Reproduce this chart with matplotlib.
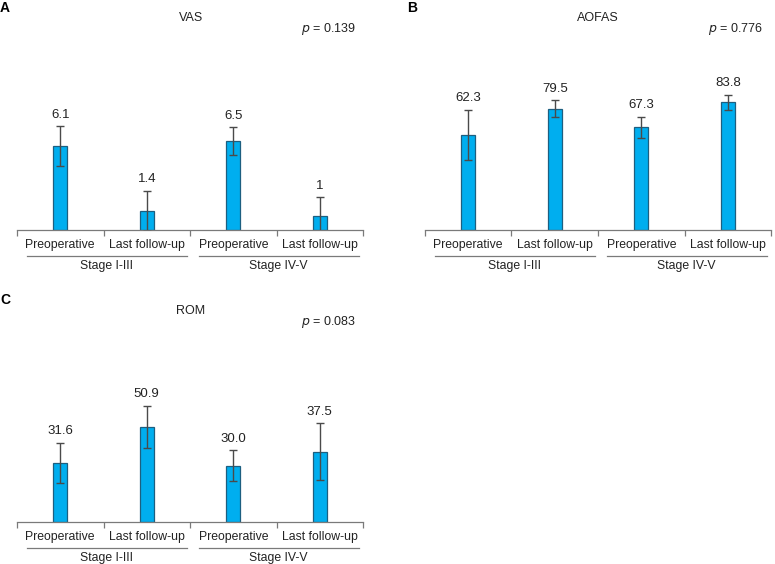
import matplotlib.pyplot as plt
from matplotlib import transforms

plt.rcParams['font.family'] = ['Liberation Sans', 'DejaVu Sans']

# data
categories = ['Preoperative', 'Last follow-up', 'Preoperative', 'Last follow-up']
groups = ['Stage I-III', 'Stage IV-V']

vas_mean = [6.1, 1.4, 6.5, 1.0]
vas_err = [1.46, 1.45, 1.0, 1.4]
vas_labels = ['6.1', '1.4', '6.5', '1']

aofas_mean = [62.3, 79.5, 67.3, 83.8]
aofas_err = [16.7, 5.6, 6.9, 4.9]
aofas_labels = ['62.3', '79.5', '67.3', '83.8']

rom_mean = [31.6, 50.9, 30.0, 37.5]
rom_err = [10.7, 11.2, 8.3, 15.2]
rom_labels = ['31.6', '50.9', '30.0', '37.5']

W, H = 775, 564
fig = plt.figure(figsize=(W / 100, H / 100), dpi=100)

bar_color = '#00AEEF'
edge_color = '#1d5f80'
err_color = '#4a4a4a'
axis_color = '#7a7a7a'


def panel(x0, x1, base_y, top_y, ymax, means, errs, labels,
          letter, letter_xy, title, title_xy, ptext, p_xy):
    ax = fig.add_axes([x0 / W, 1 - base_y / H, (x1 - x0) / W, (base_y - top_y) / H])
    xs = range(len(means))
    ax.bar(xs, means, width=0.16, color=bar_color, edgecolor=edge_color, linewidth=0.9, zorder=2)
    ax.errorbar(xs, means, yerr=errs, fmt='none', ecolor=err_color, elinewidth=1.0,
                capsize=3, capthick=1.0, zorder=3)
    for x, m, e, lab in zip(xs, means, errs, labels):
        ax.annotate(lab, (x, m + e), xytext=(0, 4), textcoords='offset points',
                    ha='center', va='bottom', fontsize=9.5, color='#222222')
    ax.set_xlim(-0.5, len(means) - 0.5)
    ax.set_ylim(0, ymax)
    for s in ['top', 'right', 'left']:
        ax.spines[s].set_visible(False)
    ax.spines['bottom'].set_color(axis_color)
    ax.spines['bottom'].set_linewidth(0.9)
    ax.set_yticks([])
    ax.set_xticks([i - 0.5 for i in range(len(means) + 1)])
    ax.set_xticklabels([])
    ax.tick_params(axis='x', direction='out', length=4, color=axis_color, width=0.9)

    trans = transforms.blended_transform_factory(ax.transData, ax.transAxes)
    off = lambda dy: transforms.offset_copy(trans, fig=fig, x=0, y=-dy, units='dots')
    for x, c in zip(xs, categories):
        ax.text(x, 0, c, transform=off(15), ha='center', va='center', fontsize=8.8, color='#222222')
    spans = [(-0.38, 1.46), (1.6, 3.45)]
    for (a, b), g in zip(spans, groups):
        ax.plot([a, b], [0, 0], transform=off(26), color=axis_color, lw=0.9, clip_on=False)
        ax.text((a + b) / 2, 0, g, transform=off(36), ha='center', va='center',
                fontsize=8.8, color='#222222')

    fig.text(letter_xy[0] / W, 1 - letter_xy[1] / H, letter, fontsize=10, fontweight='bold',
             ha='left', va='center')
    fig.text(title_xy[0] / W, 1 - title_xy[1] / H, title, fontsize=9, ha='center', va='center',
             color='#222222')
    fig.text(p_xy[0] / W, 1 - p_xy[1] / H, r'$p$ = ' + ptext, fontsize=9, ha='right', va='center',
             color='#222222')
    return ax


panel(17, 363, 230, 80, 150 / 13.7, vas_mean, vas_err, vas_labels,
      'A', (0, 8), 'VAS', (191, 18), '0.139', (356, 29))
panel(425, 771, 230, 80, 150 / 1.525, aofas_mean, aofas_err, aofas_labels,
      'B', (407, 8), 'AOFAS', (598, 18), '0.776', (763, 29))
panel(17, 363, 522, 372, 150 / 1.87, rom_mean, rom_err, rom_labels,
      'C', (0, 300), 'ROM', (191, 311), '0.083', (356, 322))

fig.savefig('out.png', dpi=100)
